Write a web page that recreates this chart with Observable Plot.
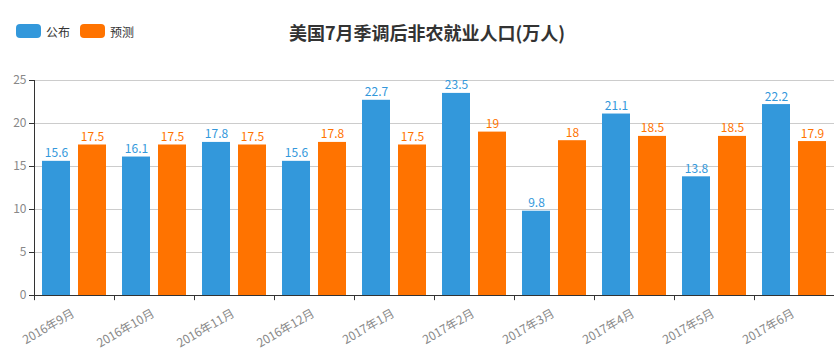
<!DOCTYPE html>
<html><head><meta charset="utf-8">
<script src="https://cdn.jsdelivr.net/npm/d3@7"></script>
<script src="https://cdn.jsdelivr.net/npm/@observablehq/plot@0.6"></script>
<style>
body{margin:0;background:#fff;font-family:"Noto Sans CJK SC","Noto Sans",sans-serif;}
#wrap{width:837px;height:355px;position:relative;overflow:hidden}
#head{position:relative;height:60px}
#title{position:absolute;left:427px;top:19px;transform:translateX(-50%);font-size:18px;font-weight:bold;color:#333;white-space:nowrap;line-height:26px}
.leg{position:absolute;top:22px;height:18px;display:flex;align-items:center;font-size:12px;color:#333}
.sw{width:25px;height:14px;border-radius:4px;margin-right:5px}
svg{display:block}
</style></head><body>
<div id="wrap">
<div id="head">
  <div class="leg" style="left:16px"><div class="sw" id="sw0"></div><span id="lg0"></span></div>
  <div class="leg" style="left:80px"><div class="sw" id="sw1"></div><span id="lg1"></span></div>
  <div id="title"></div>
</div>
<div id="chart"></div>
</div>
<script>
const title = "美国7月季调后非农就业人口(万人)";
const months = ["2016年9月","2016年10月","2016年11月","2016年12月","2017年1月","2017年2月","2017年3月","2017年4月","2017年5月","2017年6月"];
const series = ["公布","预测"];
const published = [15.6,16.1,17.8,15.6,22.7,23.5,9.8,21.1,13.8,22.2];
const forecast = [17.5,17.5,17.5,17.8,17.5,19,18,18.5,18.5,17.9];
const colors = ["#3398DB","#FF7300"];
const yTicks = [0,5,10,15,20,25];

document.getElementById("title").textContent = title;
series.forEach((s,i)=>{
  document.getElementById("lg"+i).textContent = s;
  document.getElementById("sw"+i).style.background = colors[i];
});

const rows = months.flatMap((m,i)=>[
  {month:m, series:series[0], value:published[i]},
  {month:m, series:series[1], value:forecast[i]}
]);

const chart = Plot.plot({
  width:837, height:295,
  marginTop:20, marginBottom:60, marginLeft:33, marginRight:3,
  style:{fontFamily:'"Noto Sans CJK SC","Noto Sans",sans-serif', fontSize:"12px", background:"transparent", overflow:"visible"},
  fx:{domain:months, padding:0},
  x:{domain:series, padding:0.222, axis:null},
  y:{domain:[0,25], axis:null},
  color:{domain:series, range:colors},
  marks:[
    Plot.gridY(yTicks.slice(1), {stroke:"#ccc", strokeOpacity:1}),
    Plot.barY(rows, {fx:"month", x:"series", y:"value", fill:"series"}),
    Plot.text(rows, {fx:"month", x:"series", y:"value", text:d=>String(d.value), fill:"series", lineAnchor:"bottom", dy:-4, fontSize:12}),
    Plot.ruleY([0], {stroke:"#333"}),
    Plot.ruleX(months, {fx:d=>d, x:()=>series[0], y1:0, y2:-0.6, dx:-22, stroke:"#333"}),
    Plot.ruleX([months[0]], {fx:d=>d, x:()=>series[0], y1:0, y2:25, dx:-22, stroke:"#333"}),
    Plot.axisY(yTicks, {tickSize:5, tickPadding:3, stroke:"#333", fill:"#888", fontSize:12, label:null}),
    Plot.axisFx({anchor:"bottom", tickRotate:-30, tickSize:0, tickPadding:17, dx:-1, fill:"#888", fontSize:12, label:null})
  ]
});
document.getElementById("chart").appendChild(chart);
</script>
</body></html>
